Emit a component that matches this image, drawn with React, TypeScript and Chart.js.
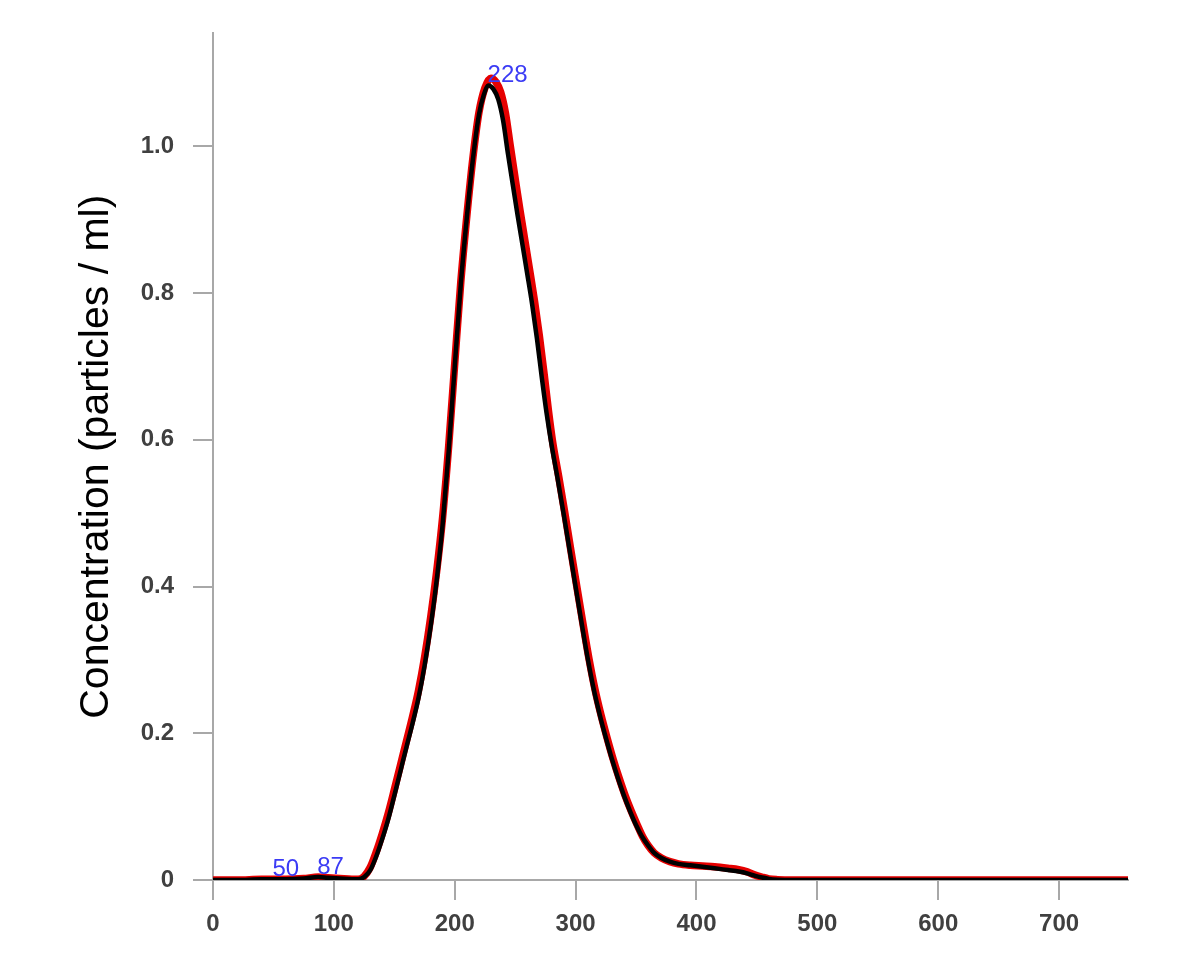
import React, { useEffect, useRef } from "react";
import { Chart, registerables } from "chart.js";

Chart.register(...registerables);

// Particle size (nm) and concentration readings, black trace
const blackX = [0, 20, 40, 60, 75, 87, 95, 105, 115, 120, 125, 130, 135, 140, 145, 150, 155, 160, 165, 170, 175, 180, 185, 190, 195, 200, 205, 210, 215, 220, 224, 228, 232, 236, 240, 244, 248, 252, 256, 260, 264, 268, 272, 276, 280, 285, 290, 295, 300, 305, 310, 315, 320, 325, 330, 335, 340, 345, 350, 355, 360, 365, 371, 378, 385, 395, 405, 415, 426, 435, 442, 448, 454, 460, 467, 480, 757];
const blackY = [0, 0, 0.001, 0.001, 0.002, 0.004, 0.003, 0.002, 0.001, 0.001, 0.004, 0.013, 0.032, 0.056, 0.083, 0.115, 0.148, 0.181, 0.213, 0.248, 0.292, 0.345, 0.408, 0.485, 0.585, 0.7, 0.812, 0.903, 0.982, 1.043, 1.07, 1.083, 1.078, 1.064, 1.035, 0.99, 0.948, 0.906, 0.866, 0.826, 0.785, 0.738, 0.685, 0.636, 0.594, 0.548, 0.5, 0.45, 0.4, 0.35, 0.302, 0.26, 0.225, 0.194, 0.165, 0.139, 0.115, 0.094, 0.075, 0.059, 0.047, 0.037, 0.03, 0.025, 0.022, 0.02, 0.018, 0.016, 0.0135, 0.0115, 0.009, 0.006, 0.0035, 0.0015, 0.0005, 0, 0];

// Red trace
const redX = [0, 20, 40, 60, 75, 87, 95, 105, 115, 120, 125, 130, 135, 140, 145, 150, 155, 160, 165, 170, 175, 180, 185, 190, 195, 200, 205, 210, 215, 220, 225, 230, 234, 238, 242, 246, 250, 254, 258, 262, 266, 270, 274, 277.5, 281, 286, 291, 296, 301, 306, 311, 316, 321, 326, 331, 336, 341, 346, 351, 355.5, 360, 365, 371, 378, 385, 395, 405, 415, 426, 435, 442, 448, 454, 460, 467, 480, 757];
const redY = [0, 0, 0.001, 0.001, 0.002, 0.004, 0.003, 0.002, 0.001, 0.001, 0.005, 0.017, 0.038, 0.063, 0.091, 0.123, 0.156, 0.189, 0.222, 0.258, 0.303, 0.357, 0.42, 0.495, 0.592, 0.704, 0.815, 0.905, 0.984, 1.046, 1.08, 1.093, 1.088, 1.074, 1.045, 1.0, 0.956, 0.913, 0.872, 0.831, 0.789, 0.742, 0.689, 0.64, 0.597, 0.55, 0.501, 0.45, 0.4, 0.35, 0.302, 0.26, 0.225, 0.194, 0.165, 0.139, 0.115, 0.094, 0.075, 0.059, 0.047, 0.037, 0.03, 0.025, 0.022, 0.02, 0.019, 0.018, 0.016, 0.014, 0.011, 0.007, 0.004, 0.0015, 0.0005, 0, 0];

// Peak labels
const peakX = [50, 87, 228];
const peakY = [0.001, 0.004, 1.083];

// Axis ticks
const xTicks = [0, 100, 200, 300, 400, 500, 600, 700];
const yTicks = [0, 0.2, 0.4, 0.6, 0.8, 1.0];
const xMax = 757;
const yMax = 1.154;

const FONT = "'Liberation Sans', Arial, Helvetica, sans-serif";

const peakLabelPlugin = {
  id: "peakLabels",
  afterDatasetsDraw(chart: any) {
    const { ctx, scales } = chart;
    ctx.save();
    ctx.font = `24px ${FONT}`;
    ctx.fillStyle = "#3b3bf5";
    ctx.textAlign = "left";
    ctx.textBaseline = "alphabetic";
    peakX.forEach((px, i) => {
      const x = scales.x.getPixelForValue(px);
      const y = scales.y.getPixelForValue(peakY[i]);
      ctx.fillText(String(px), x - 1, y - 3);
    });
    ctx.restore();
  },
};

export default function App() {
  const ref = useRef<HTMLCanvasElement>(null);
  useEffect(() => {
    if (!ref.current) return;
    const chart = new Chart(ref.current, {
      type: "line",
      data: {
        datasets: [
          {
            label: "black",
            data: blackX.map((x, i) => ({ x, y: blackY[i] })),
            borderColor: "#000000",
            borderWidth: 4.5,
            pointRadius: 0,
            cubicInterpolationMode: "monotone",
            fill: false,
          },
          {
            label: "red",
            data: redX.map((x, i) => ({ x, y: redY[i] })),
            borderColor: "#e60000",
            borderWidth: 7.5,
            pointRadius: 0,
            cubicInterpolationMode: "monotone",
            fill: false,
          },
        ],
      },
      options: {
        responsive: false,
        animation: false,
        layout: { padding: { left: 0, top: 32, right: 52, bottom: 0 } },
        plugins: { legend: { display: false }, tooltip: { enabled: false } },
        scales: {
          x: {
            type: "linear",
            min: 0,
            max: xMax,
            afterFit: (s: any) => {
              s.height = 87;
            },
            afterBuildTicks: (s: any) => {
              s.ticks = xTicks.map((v) => ({ value: v }));
            },
            border: { display: true, color: "#a8a8a8", width: 2 },
            grid: {
              display: true,
              drawOnChartArea: false,
              drawTicks: true,
              tickLength: 20,
              color: "#a8a8a8",
              lineWidth: 2,
            },
            ticks: {
              font: { family: FONT, size: 24, weight: "bold" },
              color: "#404040",
              padding: 10,
              maxRotation: 0,
              callback: (v: any) => String(v),
            },
          },
          y: {
            type: "linear",
            min: 0,
            max: yMax,
            afterFit: (s: any) => {
              s.width = 213;
            },
            afterBuildTicks: (s: any) => {
              s.ticks = yTicks.map((v) => ({ value: v }));
            },
            border: { display: true, color: "#a8a8a8", width: 2 },
            grid: {
              display: true,
              drawOnChartArea: false,
              drawTicks: true,
              tickLength: 20,
              color: "#a8a8a8",
              lineWidth: 2,
            },
            ticks: {
              font: { family: FONT, size: 24, weight: "bold" },
              color: "#404040",
              padding: 19,
              callback: (v: any) => (v === 0 ? "0" : Number(v).toFixed(1)),
            },
            title: {
              display: true,
              text: "Concentration (particles / ml)",
              color: "#000000",
              font: { family: FONT, size: 41, lineHeight: 1.2 },
              padding: { top: 72, bottom: 0 },
            },
          },
        },
      },
      plugins: [peakLabelPlugin],
    });
    return () => chart.destroy();
  }, []);

  return (
    <div style={{ position: "fixed", left: 0, top: 0, width: 1180, height: 967, background: "#ffffff" }}>
      <canvas ref={ref} width={1180} height={967} style={{ width: 1180, height: 967, display: "block" }} />
    </div>
  );
}
